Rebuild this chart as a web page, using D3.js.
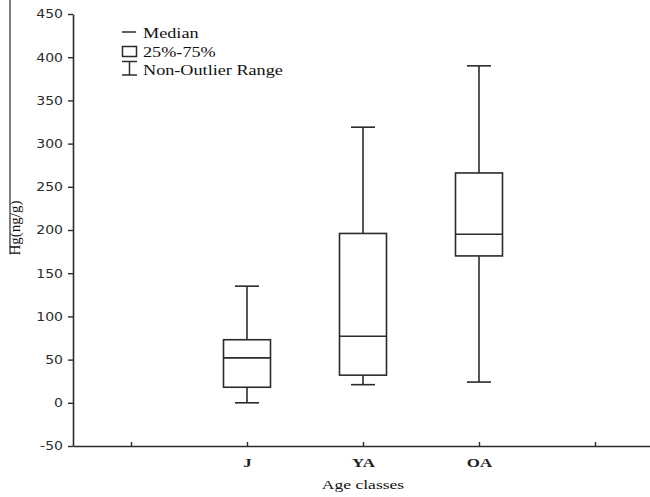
<!DOCTYPE html>
<html>
<head>
<meta charset="utf-8">
<script src="https://cdn.jsdelivr.net/npm/d3@7"></script>
<style>
  body { margin: 0; background: #fff; }
  svg { display: block; }
</style>
</head>
<body>
<svg id="chart" width="650" height="497"></svg>
<script>
// data
const slots = ["pad0", "J", "YA", "OA", "pad1"];
const groups = ["J", "YA", "OA"];
const whiskerLow = [0, 21, 24];
const q1 = [18, 32, 170];
const median = [52, 77, 195];
const q3 = [73, 196, 266];
const whiskerHigh = [135, 319, 390];
const yTicks = [-50, 0, 50, 100, 150, 200, 250, 300, 350, 400, 450];
const legendLabels = ["Median", "25%-75%", "Non-Outlier Range"];

const svg = d3.select("#chart");
const ink = "#2b2b2b";
const serif = "'Liberation Serif', 'Times New Roman', serif";
const sans = "'DejaVu Sans', Verdana, sans-serif";
// the source picture is stretched sideways, text gets the same squeeze
const serifStretch = 1.3;
const sansStretch = 1.17;

const plotLeft = 73, plotRight = 653, plotTop = 14, plotBottom = 446;

const x = d3.scalePoint().domain(slots).range([plotLeft, plotRight]).padding(0.5);
const y = d3.scaleLinear().domain([-50, 450]).range([plotBottom, plotTop]);

const boxW = 47;
const capW = 24;

// y axis
const yAxis = svg.append("g")
  .attr("transform", `translate(${plotLeft},0)`)
  .call(d3.axisLeft(y).tickValues(yTicks).tickSize(5).tickSizeOuter(0).tickPadding(5)
    .tickFormat(d => String(d)));
yAxis.select(".domain").attr("stroke", ink).attr("stroke-width", 1.6);
yAxis.selectAll(".tick line").attr("stroke", ink).attr("stroke-width", 1.4);
yAxis.selectAll(".tick text")
  .attr("font-family", sans)
  .attr("font-size", 12)
  .attr("fill", "#2a2a2a")
  .attr("x", -10 / sansStretch)
  .attr("transform", `scale(${sansStretch},1)`);

// x axis
const xAxis = svg.append("g")
  .attr("transform", `translate(0,${plotBottom})`)
  .call(d3.axisBottom(x).tickSize(-4).tickSizeOuter(0)
    .tickFormat(d => d.startsWith("pad") ? "" : d));
xAxis.select(".domain").attr("stroke", ink).attr("stroke-width", 1.6);
xAxis.selectAll(".tick line").attr("stroke", ink).attr("stroke-width", 1.4);
xAxis.selectAll(".tick text")
  .attr("font-family", serif)
  .attr("font-weight", "bold")
  .attr("font-size", 13)
  .attr("fill", "#222")
  .attr("y", 21)
  .attr("dy", 0)
  .attr("transform", `scale(${serifStretch},1)`);

// boxes
const rows = groups.map((g, i) => ({
  g: g, lo: whiskerLow[i], q1: q1[i], med: median[i], q3: q3[i], hi: whiskerHigh[i]
}));

const box = svg.append("g").selectAll("g")
  .data(rows)
  .join("g")
  .attr("transform", d => `translate(${x(d.g)},0)`)
  .attr("stroke", ink)
  .attr("stroke-width", 1.6)
  .attr("fill", "none");

box.append("line").attr("x1", 0).attr("x2", 0)
  .attr("y1", d => y(d.hi)).attr("y2", d => y(d.q3));
box.append("line").attr("x1", 0).attr("x2", 0)
  .attr("y1", d => y(d.q1)).attr("y2", d => y(d.lo));
box.append("line").attr("x1", -capW / 2).attr("x2", capW / 2)
  .attr("y1", d => y(d.hi)).attr("y2", d => y(d.hi));
box.append("line").attr("x1", -capW / 2).attr("x2", capW / 2)
  .attr("y1", d => y(d.lo)).attr("y2", d => y(d.lo));
box.append("rect")
  .attr("x", -boxW / 2).attr("width", boxW)
  .attr("y", d => y(d.q3))
  .attr("height", d => y(d.q1) - y(d.q3));
box.append("line").attr("x1", -boxW / 2).attr("x2", boxW / 2)
  .attr("y1", d => y(d.med)).attr("y2", d => y(d.med));

// legend
const leg = svg.append("g").attr("stroke", ink).attr("stroke-width", 1.5).attr("fill", "none");
leg.append("line").attr("x1", 122).attr("x2", 136).attr("y1", 32).attr("y2", 32);
leg.append("rect").attr("x", 122.5).attr("y", 46.5).attr("width", 14).attr("height", 10);
leg.append("line").attr("x1", 122).attr("x2", 137).attr("y1", 61.5).attr("y2", 61.5);
leg.append("line").attr("x1", 122).attr("x2", 137).attr("y1", 75).attr("y2", 75);
leg.append("line").attr("x1", 129.5).attr("x2", 129.5).attr("y1", 61.5).attr("y2", 75);

svg.append("g").selectAll("text")
  .data(legendLabels)
  .join("text")
  .attr("transform", (d, i) => `translate(143,${[37.5, 56.5, 75][i]}) scale(${serifStretch},1)`)
  .attr("font-family", serif)
  .attr("font-size", 14)
  .attr("fill", "#111")
  .text(d => d);

// axis titles
svg.append("text")
  .attr("transform", `translate(${x("YA")},489) scale(${serifStretch},1)`)
  .attr("text-anchor", "middle")
  .attr("font-family", serif)
  .attr("font-size", 13.5)
  .attr("fill", "#111")
  .text("Age classes");

svg.append("text")
  .attr("transform", "translate(20,228) rotate(-90)")
  .attr("text-anchor", "middle")
  .attr("font-family", serif)
  .attr("font-size", 15)
  .attr("fill", "#111")
  .text("Hg(ng/g)");

// stray rule at the far left of the scan
svg.append("line")
  .attr("x1", 10).attr("x2", 10).attr("y1", 0).attr("y2", 254)
  .attr("stroke", ink).attr("stroke-width", 1.2);
</script>
</body>
</html>
